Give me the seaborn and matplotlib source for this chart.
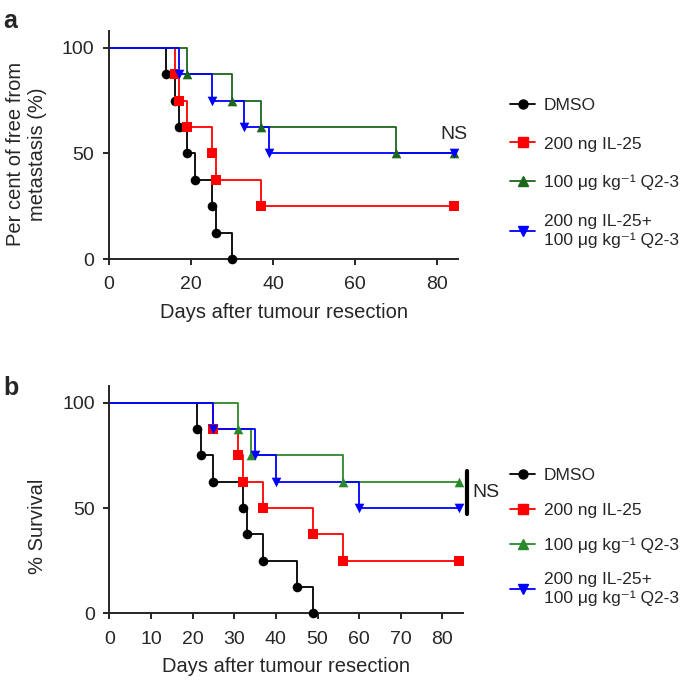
import matplotlib.pyplot as plt
import seaborn as sns
import pandas as pd
from matplotlib.lines import Line2D

# group labels (shared by both panels)
groups = ["DMSO", "200 ng IL-25", "100 μg kg⁻¹ Q2-3",
          "200 ng IL-25+\n100 μg kg⁻¹ Q2-3"]
markers = ["o", "s", "^", "v"]

# panel a: per cent free from metastasis
dmso_a_days = [0, 14, 16, 17, 19, 21, 25, 26, 30]
dmso_a_pct = [100, 87.5, 75, 62.5, 50, 37.5, 25, 12.5, 0]
il25_a_days = [0, 16, 17, 19, 25, 26, 37, 84]
il25_a_pct = [100, 87.5, 75, 62.5, 50, 37.5, 25, 25]
q23_a_days = [0, 19, 30, 37, 70, 84]
q23_a_pct = [100, 87.5, 75, 62.5, 50, 50]
combo_a_days = [0, 17, 25, 33, 39, 84]
combo_a_pct = [100, 87.5, 75, 62.5, 50, 50]

# panel b: % survival
dmso_b_days = [0, 21, 22, 25, 32, 33, 37, 45, 49]
dmso_b_pct = [100, 87.5, 75, 62.5, 50, 37.5, 25, 12.5, 0]
il25_b_days = [0, 25, 31, 32, 37, 49, 56, 84]
il25_b_pct = [100, 87.5, 75, 62.5, 50, 37.5, 25, 25]
q23_b_days = [0, 31, 34, 56, 84]
q23_b_pct = [100, 87.5, 75, 62.5, 62.5]
combo_b_days = [0, 25, 35, 40, 60, 84]
combo_b_pct = [100, 87.5, 75, 62.5, 50, 50]

colors_a = ["#000000", "#ff0000", "#1c661c", "#0000ff"]
colors_b = ["#000000", "#ff0000", "#2a8a2a", "#0000ff"]

sns.set_theme(style="ticks")
plt.rcParams["font.family"] = ["Liberation Sans", "DejaVu Sans"]
plt.rcParams["axes.linewidth"] = 1.4

fig = plt.figure(figsize=(6.85, 6.81), dpi=100)
W, H = 685, 681
ax_a = fig.add_axes([109 / W, 1 - 259 / H, (458 - 109) / W, (259 - 30.8) / H])
ax_b = fig.add_axes([109.3 / W, 1 - 613.3 / H, (463.3 - 109.3) / W, (613.3 - 385.9) / H])


def draw_km(ax, series, colors):
    for (days, pct), color, marker in zip(series, colors, markers):
        df = pd.DataFrame({"day": days, "pct": pct})
        sns.lineplot(data=df, x="day", y="pct", ax=ax, color=color, lw=1.3,
                     drawstyle="steps-post", estimator=None, sort=False,
                     clip_on=False)
        sns.scatterplot(data=df.iloc[1:], x="day", y="pct", ax=ax, color=color,
                        marker=marker, s=48, linewidth=0, clip_on=False, zorder=3)


def style_axes(ax, xticks):
    ax.set_xlim(0, 85)
    ax.set_ylim(0, 108)
    ax.set_xticks(xticks)
    ax.set_yticks([0, 50, 100])
    sns.despine(ax=ax)
    ax.tick_params(axis="both", labelsize=14, width=1.4, length=4.5)
    ax.tick_params(axis="x", pad=8)
    ax.tick_params(axis="y", pad=6)
    ax.set_xlabel("Days after tumour resection", fontsize=14.5, labelpad=7)


def add_legend(ax, colors, top_px, spacing):
    handles = [Line2D([], [], color=c, marker=m, lw=1.3, markersize=6.5)
               for c, m in zip(colors, markers)]
    leg = ax.legend(handles, groups, loc="upper left", frameon=False,
                    bbox_to_anchor=(510 / W, 1 - top_px / H),
                    bbox_transform=fig.transFigure, fontsize=12.5, borderpad=0,
                    borderaxespad=0, handlelength=1.45, handletextpad=0.5,
                    labelspacing=spacing)
    for t in leg.get_texts():
        t.set_linespacing(1.3)


draw_km(ax_a, [(dmso_a_days, dmso_a_pct), (il25_a_days, il25_a_pct),
               (q23_a_days, q23_a_pct), (combo_a_days, combo_a_pct)], colors_a)
style_axes(ax_a, range(0, 81, 20))
ax_a.set_ylabel("Per cent of free from\nmetastasis (%)", fontsize=14.5)
ax_a.yaxis.set_label_coords(-0.178, 0.46)
add_legend(ax_a, colors_a, 98, 1.34)
ax_a.text(combo_a_days[-1], combo_a_pct[-1] + 9, "NS", fontsize=14,
          ha="center", va="center")

draw_km(ax_b, [(dmso_b_days, dmso_b_pct), (il25_b_days, il25_b_pct),
               (q23_b_days, q23_b_pct), (combo_b_days, combo_b_pct)], colors_b)
style_axes(ax_b, range(0, 81, 10))
ax_b.set_ylabel("% Survival", fontsize=14.5)
ax_b.yaxis.set_label_coords(-0.176, 0.384)
add_legend(ax_b, colors_b, 468, 1.12)

# significance bar between the two treated groups
bar_x = 86
ax_b.plot([bar_x, bar_x], [combo_b_pct[-1] - 3, q23_b_pct[-1] + 5],
          color="black", lw=3, clip_on=False)
ax_b.text(bar_x + 1.2, (combo_b_pct[-1] + q23_b_pct[-1]) / 2 + 1, "NS",
          fontsize=14, ha="left", va="center")

fig.text(3 / W, 1 - 28 / H, "a", fontsize=18, fontweight="bold", va="baseline")
fig.text(3 / W, 1 - 395 / H, "b", fontsize=18, fontweight="bold", va="baseline")

fig.savefig("out.png", dpi=100)
